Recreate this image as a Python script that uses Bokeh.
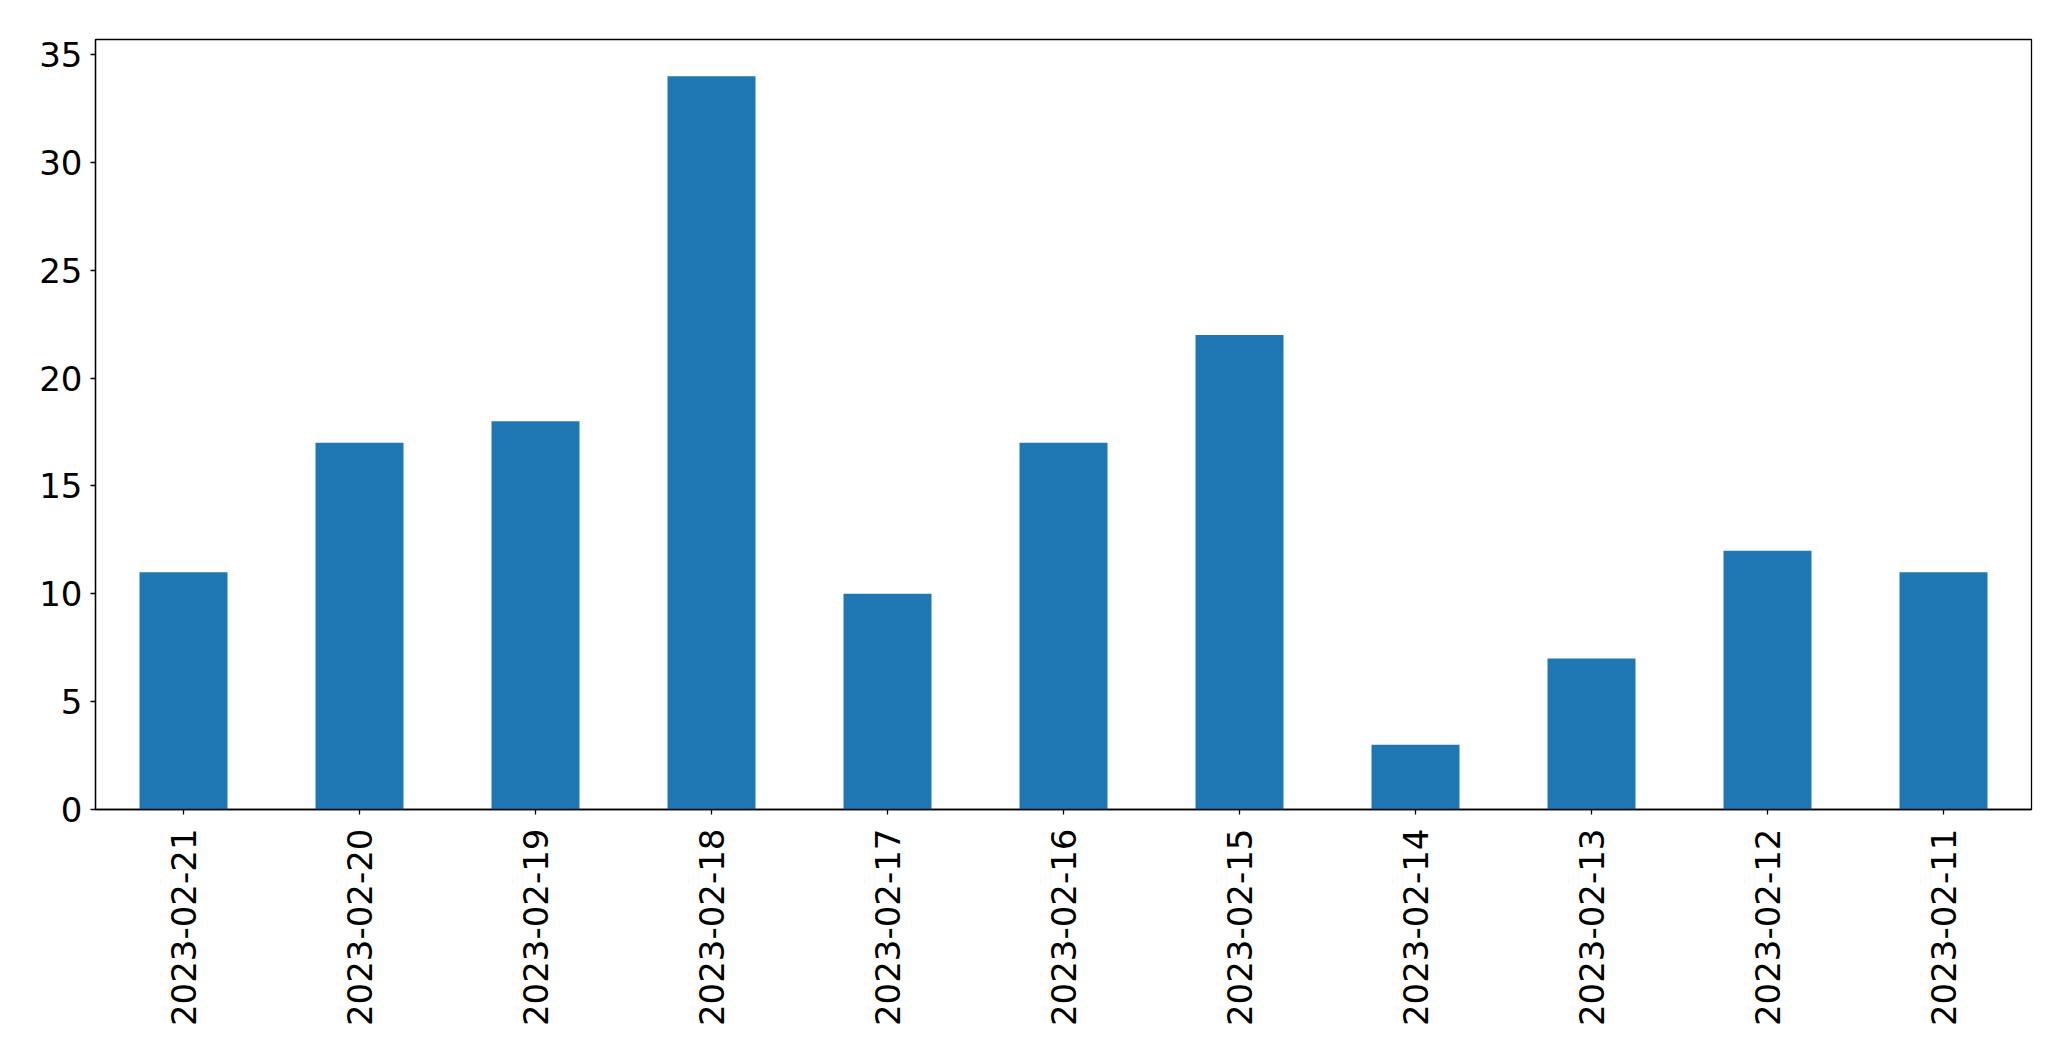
import math
from bokeh.plotting import figure
from bokeh.models import FactorRange, Range1d, FixedTicker, ColumnDataSource
from bokeh.embed import file_html
from bokeh.resources import INLINE

dates = ["2023-02-21", "2023-02-20", "2023-02-19", "2023-02-18", "2023-02-17",
         "2023-02-16", "2023-02-15", "2023-02-14", "2023-02-13", "2023-02-12",
         "2023-02-11"]
counts = [11, 17, 18, 34, 10, 17, 22, 3, 7, 12, 11]
y_ticks = [0, 5, 10, 15, 20, 25, 30, 35]

src = ColumnDataSource(dict(x=dates, top=counts))

p = figure(width=2063, height=1045, output_backend="svg", toolbar_location=None,
           x_range=FactorRange(factors=dates, range_padding=0),
           y_range=Range1d(0, max(counts) * 1.05),
           min_border_left=95, min_border_top=39, min_border_right=32,
           min_border_bottom=236)
p.vbar(x="x", top="top", width=0.5, source=src, fill_color="#1f77b4",
       line_color=None)

p.xgrid.visible = False
p.ygrid.visible = False
p.outline_line_color = "black"
p.outline_line_width = 1.3
p.outline_line_alpha = 1

for ax in (p.xaxis[0], p.yaxis[0]):
    ax.axis_line_color = "black"
    ax.axis_line_width = 1.3
    ax.major_tick_line_color = "black"
    ax.major_tick_line_width = 1.3
    ax.major_tick_out = 5
    ax.major_tick_in = 0
    ax.minor_tick_line_color = None
    ax.major_label_text_font = "DejaVu Sans"
    ax.major_label_text_font_size = "34px"
    ax.major_label_text_color = "black"

p.yaxis.ticker = FixedTicker(ticks=y_ticks)
p.yaxis.major_label_standoff = 8
p.xaxis.major_label_orientation = math.pi / 2
p.xaxis.major_label_standoff = 14

open("out.html", "w").write(file_html(p, INLINE))
